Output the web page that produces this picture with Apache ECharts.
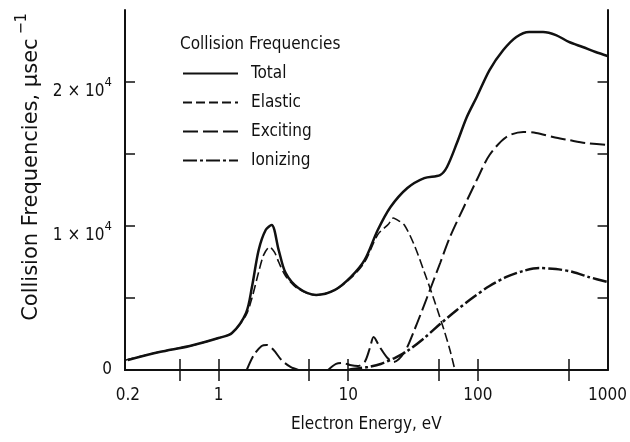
<!DOCTYPE html>
<html><head><meta charset="utf-8">
<script src="https://cdn.jsdelivr.net/npm/echarts@6/dist/echarts.min.js"></script>
<style>html,body{margin:0;padding:0;background:#fff}#c{width:630px;height:442px}</style>
</head><body><div id="c"></div>
<script>
// ---- data (electron energy in eV, collision frequency in µsec^-1) ----
const totalE = [0.2, 0.35, 0.6, 1.0, 1.27, 1.63, 1.81, 2.04, 2.31, 2.57, 2.91, 3.29, 4.13, 5.67, 7.91, 10.5, 13.4, 16.9, 21.2, 28.6, 38.6, 51.1, 57.8, 68.9, 82.2, 98, 123, 157, 198, 249, 318, 400, 503, 643, 809, 1000];
const totalF = [700, 1250, 1670, 2220, 2570, 3960, 5760, 8330, 9720, 10070, 8330, 6740, 5690, 5210, 5560, 6460, 7640, 9720, 11320, 12640, 13330, 13540, 14100, 15760, 17570, 18960, 20830, 22220, 23130, 23470, 23470, 23260, 22780, 22430, 22080, 21810];

const elasticE = [0.19, 0.35, 0.6, 1.0, 1.27, 1.63, 1.81, 2.04, 2.23, 2.48, 2.70, 2.91, 3.29, 4.13, 5.67, 7.91, 10.5, 13.4, 16.9, 20.5, 22.3, 23.9, 27.1, 32.3, 38.6, 46, 54.8, 60.9, 66.5];
const elasticF = [680, 1250, 1670, 2220, 2570, 3820, 5000, 6810, 7990, 8540, 8190, 7500, 6530, 5620, 5210, 5560, 6390, 7500, 9400, 10140, 10560, 10420, 10070, 8680, 6810, 4860, 2780, 1390, 0];

const excitingE = [1.65, 1.87, 2.15, 2.35, 2.66, 3.06, 3.59, 4.13, 5.5, 7.0, 8.06, 9.12, 10.3, 11.9, 13.4, 14.7, 15.7, 17.5, 20.1, 22.4, 27.2, 32.4, 40.7, 51.2, 61.0, 78.0, 98, 123, 166, 224, 281, 379, 503, 678, 1000];
const excitingF = [0, 1040, 1670, 1740, 1390, 690, 210, 0, null, 0, 420, 490, 350, 280, 560, 1530, 2290, 1600, 830, 560, 1250, 2780, 5070, 7430, 9240, 11320, 13190, 14930, 16180, 16530, 16460, 16180, 15970, 15760, 15630];

const ionizingE = [10.0, 10.9, 14.2, 17.8, 22.8, 28.6, 38.6, 51.1, 68.9, 92.8, 123, 166, 224, 297, 400, 540, 715, 1000];
const ionizingF = [0, 70, 210, 420, 830, 1320, 2220, 3190, 4170, 5070, 5830, 6460, 6880, 7080, 7010, 6810, 6460, 6110];

const seriesNames = ['Total', 'Elastic', 'Exciting', 'Ionizing'];
const legendTitle = 'Collision Frequencies';
const xLabelValues = [0.2, 1, 10, 100, 1000];
const xTickValues = [0.5, 1, 5, 10, 50, 100, 500];
const yLabelValues = [0, 10000, 20000];
const yTickValues = [0, 5000, 10000, 15000, 20000];
const xName = 'Electron Energy, eV';
const yName = 'Collision Frequencies, µsec';

// ---- chart ----
const FONT = '"Liberation Sans Narrow","DejaVu Sans Condensed","Noto Sans",sans-serif';
const INK = '#111';
const zip = (xs, ys) => xs.map((x, i) => [x, ys[i] === null ? '-' : ys[i]]);

const chart = echarts.init(document.getElementById('c'), null, { renderer: 'canvas' });

const axisLineStyle = { color: INK, width: 2 };
const xBase = {
  type: 'log', logBase: 10, min: 0.19, max: 1000,
  axisLine: { show: true, lineStyle: axisLineStyle },
  splitLine: { show: false }, minorTick: { show: false }, minorSplitLine: { show: false }
};
const yBase = {
  type: 'value', min: 0, max: 25000,
  axisLine: { show: true, onZero: false, lineStyle: axisLineStyle },
  splitLine: { show: false }
};

const option = {
  backgroundColor: '#fff',
  animation: false,
  grid: { left: 125, right: 18, top: 10, bottom: 72 },
  title: {
    text: legendTitle, left: 175, top: 31,
    textStyle: { fontFamily: FONT, fontSize: 17, fontWeight: 'normal', color: INK }
  },
  legend: {
    orient: 'vertical', left: 177, top: 58,
    itemWidth: 55, itemHeight: 14, itemGap: 8,
    itemStyle: { opacity: 0, color: 'transparent', borderWidth: 0 },
    textStyle: { fontFamily: FONT, fontSize: 17, color: INK, lineHeight: 21, padding: [0, 0, 0, 8] },
    data: seriesNames
  },
  xAxis: [
    Object.assign({}, xBase, {
      position: 'bottom',
      axisTick: { show: true, inside: true, length: 11, customValues: xTickValues, lineStyle: { color: INK, width: 1.5 } },
      axisLabel: {
        show: true, customValues: xLabelValues, margin: 17,
        fontFamily: FONT, fontSize: 17, color: INK,
        formatter: v => String(+(+v).toPrecision(6))
      },
      name: xName, nameLocation: 'middle', nameGap: 46,
      nameTextStyle: { fontFamily: FONT, fontSize: 17, color: INK }
    }),
    Object.assign({}, xBase, {
      position: 'top',
      axisTick: { show: true, inside: true, length: 11, customValues: xTickValues, lineStyle: { color: INK, width: 1.5 } },
      axisLabel: { show: false }
    })
  ],
  yAxis: [
    Object.assign({}, yBase, {
      position: 'left',
      axisTick: { show: true, inside: true, length: 10, customValues: yTickValues, lineStyle: { color: INK, width: 1.5 } },
      axisLabel: {
        show: true, customValues: yLabelValues, margin: 13, padding: [12, 0, 0, 0],
        formatter: v => (+v === 0 ? '{z|0}' : '{a|' + (+v / 10000) + ' × 10}{s|4}'),
        rich: {
          a: { fontFamily: FONT, fontSize: 17, color: INK, lineHeight: 24, verticalAlign: 'bottom' },
          s: { fontFamily: FONT, fontSize: 13, color: INK, lineHeight: 13, verticalAlign: 'top' },
          z: { fontFamily: FONT, fontSize: 17, color: INK, padding: [0, 0, 12, 0] }
        }
      },
      name: '{t|' + yName + '}{s|−1}',
      nameLocation: 'middle', nameRotate: 90, nameGap: 74,
      nameTextStyle: {
        padding: [0, 0, 0, 46],
        rich: {
          t: { fontFamily: '"DejaVu Sans","Liberation Sans",sans-serif', fontSize: 21, color: INK, lineHeight: 28, verticalAlign: 'bottom' },
          s: { fontFamily: FONT, fontSize: 16, color: INK, lineHeight: 15, verticalAlign: 'top', padding: [0, 0, 0, 4] }
        }
      }
    }),
    Object.assign({}, yBase, {
      position: 'right',
      axisTick: { show: true, inside: true, length: 10, customValues: yTickValues, lineStyle: { color: INK, width: 1.5 } },
      axisLabel: { show: false }
    })
  ],
  series: [
    { name: seriesNames[0], type: 'line', data: zip(totalE, totalF), smooth: 0.3, symbol: 'none',
      lineStyle: { color: INK, width: 2.5, type: 'solid' }, itemStyle: { color: INK } },
    { name: seriesNames[1], type: 'line', data: zip(elasticE, elasticF), smooth: 0.3, symbol: 'none',
      lineStyle: { color: INK, width: 1.6, type: [9, 4] }, itemStyle: { color: INK } },
    { name: seriesNames[2], type: 'line', data: zip(excitingE, excitingF), smooth: 0.3, symbol: 'none',
      lineStyle: { color: INK, width: 2, type: [15, 5] }, itemStyle: { color: INK } },
    { name: seriesNames[3], type: 'line', data: zip(ionizingE, ionizingF), smooth: 0.3, symbol: 'none',
      lineStyle: { color: INK, width: 2.5, type: [14, 3, 3, 3] }, itemStyle: { color: INK } }
  ]
};
chart.setOption(option);
</script>
</body></html>
